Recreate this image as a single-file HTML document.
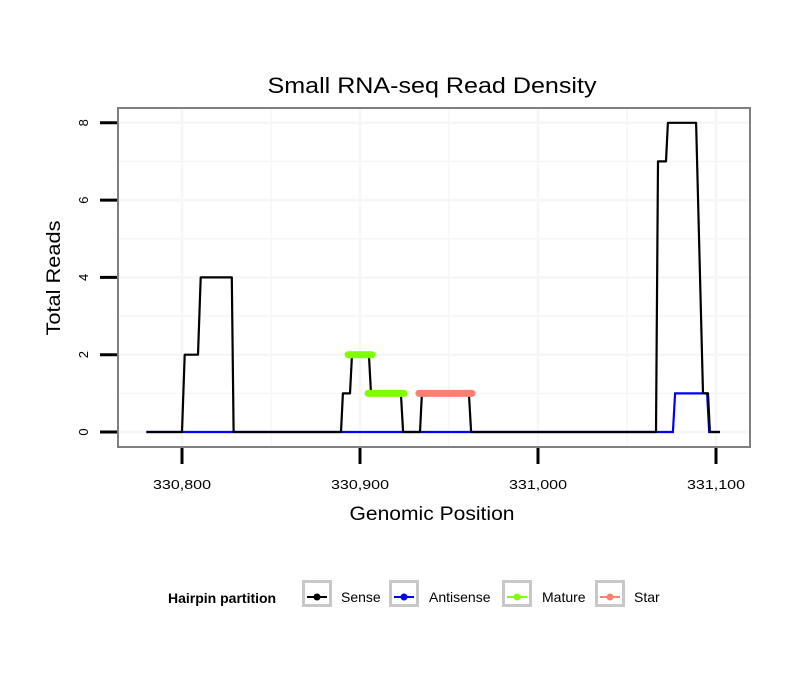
<!DOCTYPE html>
<html><head><meta charset="utf-8"><style>
body{margin:0;background:#fff;}
svg text{font-family:"Liberation Sans",sans-serif;}
</style></head><body>
<svg id="chart" width="810" height="690" xmlns="http://www.w3.org/2000/svg">
<rect width="810" height="690" fill="#fff"/>
<text x="432" y="93" font-size="22" text-anchor="middle" textLength="329" lengthAdjust="spacingAndGlyphs">Small RNA-seq Read Density</text>
<g id="grid"></g>
<g id="series"></g>
<rect x="118" y="108" width="632" height="339" fill="none" stroke="#7f7f7f" stroke-width="2"/>
<g id="axes"></g>
<text x="432" y="520" font-size="19" text-anchor="middle" textLength="165" lengthAdjust="spacingAndGlyphs">Genomic Position</text>
<text transform="translate(60,278) rotate(-90)" font-size="19" text-anchor="middle" textLength="115" lengthAdjust="spacingAndGlyphs">Total Reads</text>
<g id="legend">
<text x="168" y="603" font-size="14" font-weight="bold">Hairpin partition</text>
</g>
</svg>
<script>
const xTicks=[330800,330900,331000,331100];
const xTickLabels=["330,800","330,900","331,000","331,100"];
const yTicks=[0,2,4,6,8];
const yTickLabels=["0","2","4","6","8"];
const sensePos=[330780,330800,330801.5,330809,330810.5,330828,330829,330889.3,330890.4,330894.4,330895.5,330905,330906.2,330923,330924.2,330933.7,330934.8,330961.2,330962.4,331066.3,331067.4,331071.9,331073,331088.8,331092.7,331095.5,331096.6,331102.2];
const senseVal=[0,0,2,2,4,4,0,0,1,1,2,2,1,1,0,0,1,1,0,0,7,7,8,8,1,1,0,0];
const antiPos=[330780,331075.8,331077,331095,331096.2,331102.2];
const antiVal=[0,0,1,1,0,0];
const maturePos=[[330893.3,330906.7],[330904.5,330924.7]];
const matureVal=[2,1];
const starPos=[[330933.1,330962.9]];
const starVal=[1];
const legendLabels=["Sense","Antisense","Mature","Star"];
const legendColors=["#000000","#0000ff","#7fff00","#fa8072"];

const NS="http://www.w3.org/2000/svg";
const X=v=>182+(v-330800)*1.78;
const Y=v=>432-v*38.65;
function mk(tag,attrs,parent){const e=document.createElementNS(NS,tag);for(const k in attrs)e.setAttribute(k,attrs[k]);parent.appendChild(e);return e;}
const grid=document.getElementById('grid'),ser=document.getElementById('series'),ax=document.getElementById('axes'),leg=document.getElementById('legend');
for(let v=330750;v<=331150;v+=50){const x=X(v);if(x<119||x>749)continue;const l=mk('line',{x1:x,x2:x,y1:109,y2:446,stroke:'#f6f6f6','stroke-width':v%100===0?2.5:1.5},grid);

}
for(let v=-1;v<=9;v++){const y=Y(v);if(y<109||y>446)continue;const l=mk('line',{x1:119,x2:749,y1:y,y2:y,stroke:'#f6f6f6','stroke-width':v%2===0?2.5:1.5},grid);

}
function pathOf(p,v){return p.map((q,i)=>(i?'L':'M')+X(q).toFixed(1)+','+Y(v[i]).toFixed(1)).join('');}
const ap=mk('path',{d:pathOf(antiPos,antiVal),fill:'none',stroke:'#0000ff','stroke-width':2.2},ser);


const sp=mk('path',{d:pathOf(sensePos,senseVal),fill:'none',stroke:'#000','stroke-width':2.2,'stroke-linejoin':'round'},ser);


maturePos.forEach((r,i)=>{const l=mk('line',{x1:X(r[0]),x2:X(r[1]),y1:Y(matureVal[i]),y2:Y(matureVal[i]),stroke:'#7fff00','stroke-width':7,'stroke-linecap':'round'},ser);

});
starPos.forEach((r,i)=>{const l=mk('line',{x1:X(r[0]),x2:X(r[1]),y1:Y(starVal[i]),y2:Y(starVal[i]),stroke:'#fa8072','stroke-width':7,'stroke-linecap':'round'},ser);

});
xTicks.forEach((v,i)=>{const x=X(v);const t=mk('line',{x1:x,x2:x,y1:448,y2:464,stroke:'#000','stroke-width':3},ax);


const tx=mk('text',{x:x,y:489,'font-size':13,'text-anchor':'middle',textLength:58,lengthAdjust:'spacingAndGlyphs'},ax);tx.textContent=xTickLabels[i];

});
yTicks.forEach((v,i)=>{const y=Y(v);const t=mk('line',{x1:100,x2:117,y1:y,y2:y,stroke:'#000','stroke-width':3},ax);


const tx=mk('text',{transform:`translate(88,${y}) rotate(-90)`,'font-size':13,'text-anchor':'middle'},ax);tx.textContent=yTickLabels[i];

});
const boxX=[302,389,502,595],labX=[341,429,542,634];
legendLabels.forEach((lab,i)=>{const g=mk('g',{},leg);


mk('rect',{x:boxX[i]+1.5,y:581.5,width:27,height:24,fill:'#fff',stroke:'#c8c8c8','stroke-width':3},g);
mk('line',{x1:boxX[i]+5,x2:boxX[i]+25,y1:597,y2:597,stroke:legendColors[i],'stroke-width':2},g);
mk('circle',{cx:boxX[i]+15,cy:597,r:3.5,fill:legendColors[i]},g);
const t=mk('text',{x:labX[i],y:602,'font-size':14},g);t.textContent=lab;});
</script>
</body></html>
